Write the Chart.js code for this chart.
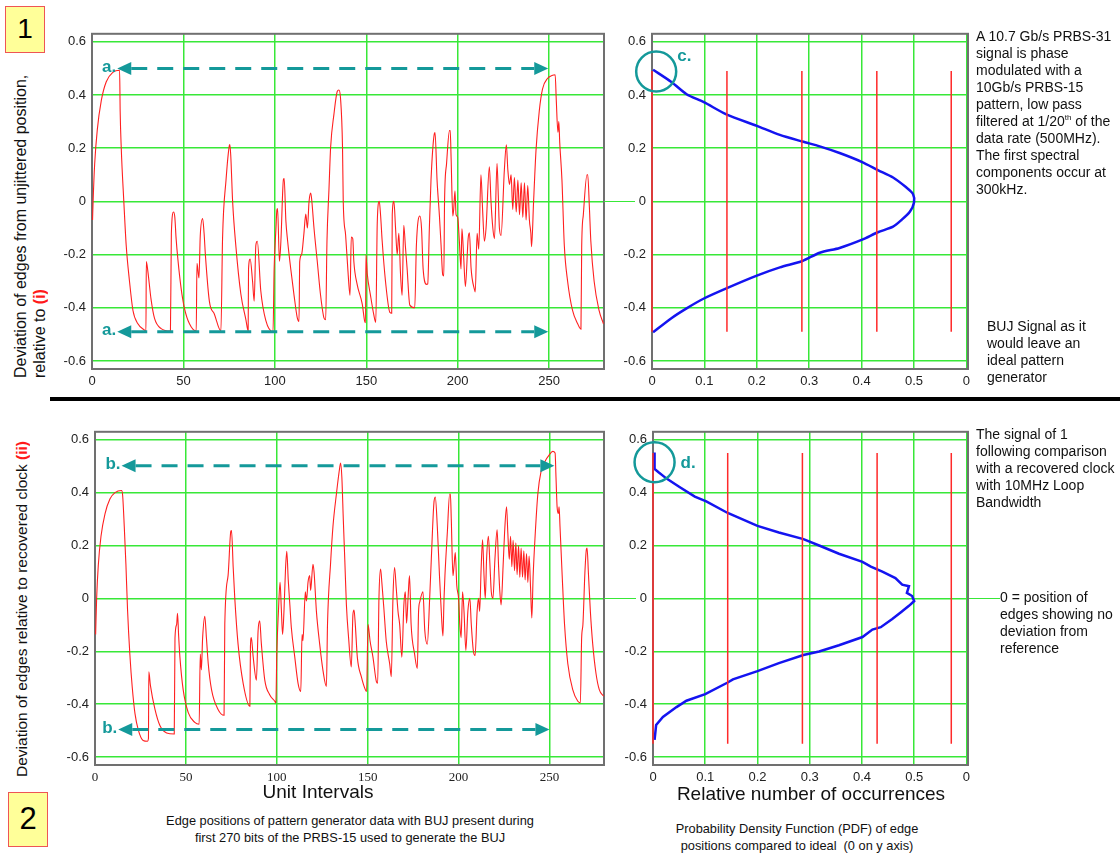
<!DOCTYPE html>
<html lang="en">
<head>
<meta charset="UTF-8">
<title>BUJ edge deviation and PDF</title>
<script src="https://cdn.jsdelivr.net/npm/chart.js"></script>
<style>
  body { margin: 0; background: #fff; font-family: 'Liberation Sans', Arial, sans-serif; color: #111; }
  #page { position: relative; width: 1120px; height: 855px; overflow: hidden; }
  canvas, .txt, .tag, .vt { position: absolute; }
  .txt { white-space: nowrap; font-size: 14px; line-height: 17px; }
  .tag { background: #ffff99; border: 1.5px solid #ee5555; box-sizing: border-box; text-align: center; color: #000; }
  .vt { writing-mode: vertical-rl; transform: rotate(180deg); white-space: nowrap; line-height: 19px; }
  .red { color: #ff1a1a; font-weight: bold; }
  .center { text-align: center; }
  .rule { position: absolute; left: 50px; top: 397px; width: 1070px; height: 4px; background: #000; }
</style>
</head>
<body>
<div id="page">
  <div class="tag" style="left:5px; top:6px; width:40px; height:47px; font-size:28px; line-height:44px;">1</div>
  <div class="tag" style="left:8px; top:792px; width:40px; height:55px; font-size:31px; line-height:52px;">2</div>

  <div class="vt" style="left:11px; top:40px; height:338px; font-size:16px;">Deviation of edges from unjittered position,<br>relative to <span class="red">(i)</span></div>
  <div class="vt" style="left:12px; top:430px; height:347px; font-size:15.5px;">Deviation of edges relative to recovered clock <span class="red">(ii)</span></div>

  <canvas id="timeTop" width="570" height="372" style="left:40px; top:20px;"></canvas>
  <canvas id="pdfTop" width="400" height="372" style="left:604px; top:20px;"></canvas>
  <div class="rule"></div>
  <canvas id="timeBot" width="570" height="370" style="left:40px; top:418px;"></canvas>
  <canvas id="pdfBot" width="400" height="370" style="left:604px; top:418px;"></canvas>

  <div class="txt" style="left:976px; top:28px;">A 10.7 Gb/s PRBS-31<br>signal is phase<br>modulated with a<br>10Gb/s PRBS-15<br>pattern, low pass<br>filtered at 1/20<sup style="font-size:8px; line-height:0;">th</sup> of the<br>data rate (500MHz).<br>The first spectral<br>components occur at<br>300kHz.</div>
  <div class="txt" style="left:987px; top:318px;">BUJ Signal as it<br>would leave an<br>ideal pattern<br>generator</div>
  <div class="txt" style="left:976px; top:426px;">The signal of 1<br>following comparison<br>with a recovered clock<br>with 10MHz Loop<br>Bandwidth</div>
  <div class="txt" style="left:1000px; top:589px;">0 = position of<br>edges showing no<br>deviation from<br>reference</div>

  <div class="txt center" style="left:168px; top:781px; width:300px; font-size:19px; line-height:22px;">Unit Intervals</div>
  <div class="txt center" style="left:661px; top:783px; width:300px; font-size:19px; line-height:22px;">Relative number of occurrences</div>
  <div class="txt center" style="left:100px; top:812px; width:500px; font-size:12.8px; line-height:17px;">Edge positions of pattern generator data with BUJ present during<br>first 270 bits of the PRBS-15 used to generate the BUJ</div>
  <div class="txt center" style="left:597px; top:820px; width:400px; font-size:12.8px; line-height:17px;">Probability Density Function (PDF) of edge<br>positions compared to ideal&nbsp; (0 on y axis)</div>
</div>

<script>
// axis ticks
const devTicks = [-0.6, -0.4, -0.2, 0, 0.2, 0.4, 0.6];
const uiTicks = [0, 50, 100, 150, 200, 250];
const occTicks = [0, 0.1, 0.2, 0.3, 0.4, 0.5, 0.6];
const occTickLabels = ['0', '0.1', '0.2', '0.3', '0.4', '0.5', '0'];

// (i) edge deviation as it leaves the pattern generator
const topUI = [0.3, 0.6, 1.45, 2.9, 5.1, 7.8, 11.4, 15.1, 15.4, 16.0, 17.4, 18.7, 20.5, 22.4, 25.1, 28.7, 29.5, 29.7, 30.5, 32.3,
  34.2, 37.8, 42.9, 43.4, 44.6, 45.3, 46.0, 47.0, 48.7, 50.5, 53.3, 57.0, 57.4, 58.5, 59.2, 60.5, 61.3, 62.0, 64.2, 66.9,
  70.5, 71.4, 73.3, 75.1, 75.4, 75.9, 76.9, 78.7, 81.4, 84.2, 85.4, 85.6, 86.5, 87.8, 88.7, 89.6, 90.4, 92.3, 95.0, 99.0,
  99.6, 100.6, 101.1, 101.5, 102.5, 103.3, 104.7, 105.1, 106.0, 107.0, 108.7, 110.5, 112.3, 113.2, 113.6, 114.6, 115.9, 116.9, 117.8, 118.7,
  119.6, 120.1, 121.4, 123.2, 125.0, 126.9, 127.8, 128.5, 129.6, 130.5, 132.3, 134.1, 135.0, 135.9, 137.0, 137.4, 138.7, 139.9, 141.1, 141.8,
  142.6, 143.2, 145.0, 147.8, 149.1, 149.6, 149.8, 150.5, 152.3, 154.1, 155.2, 156.0, 157.1, 157.8, 158.7, 160.5, 162.9, 163.9, 164.2, 165.1,
  166.0, 166.9, 167.8, 168.7, 169.6, 170.5, 171.4, 172.3, 173.8, 176.5, 177.4, 179.3, 180.2, 181.1, 183.0, 183.6, 184.5, 185.4, 187.2, 187.6,
  188.7, 190.0, 190.9, 191.8, 192.4, 192.8, 193.9, 195.5, 195.9, 196.4, 197.3, 197.8, 198.5, 199.1, 200.0, 200.9, 201.8, 202.3, 203.2, 204.2,
  205.7, 206.4, 207.3, 209.1, 209.6, 210.6, 211.5, 212.7, 213.6, 214.6, 215.5, 217.3, 218.2, 219.2, 220.1, 221.5, 222.2, 222.8, 223.7, 225.5,
  226.6, 227.4, 228.3, 229.2, 230.1, 231.0, 232.0, 232.9, 233.8, 234.7, 235.6, 236.5, 237.4, 238.3, 239.2, 240.0, 240.4, 241.5, 242.8, 244.6,
  246.4, 249.2, 251.5, 253.3, 253.9, 254.8, 255.3, 255.8, 257.0, 258.3, 260.1, 262.8, 265.6, 267.4, 267.8, 268.7, 270.7, 271.1, 272.0, 272.8,
  274.6, 277.3, 279.7];
const topDev = [-0.07, 0.0, 0.14, 0.27, 0.38, 0.45, 0.485, 0.493, 0.34, 0.2, 0.0, -0.165, -0.3, -0.41, -0.46, -0.484, -0.488, -0.226, -0.26, -0.368,
  -0.44, -0.478, -0.487, -0.12, -0.04, -0.06, -0.14, -0.22, -0.325, -0.4, -0.46, -0.487, -0.233, -0.288, -0.13, -0.064, -0.12, -0.2, -0.376, -0.423,
  -0.487, -0.138, 0.081, 0.21, 0.214, 0.17, 0.0, -0.17, -0.348, -0.446, -0.487, -0.254, -0.217, -0.3, -0.375, -0.165, -0.15, -0.336, -0.446, -0.49,
  -0.254, -0.103, -0.033, -0.027, -0.225, -0.15, 0.083, 0.086, -0.07, -0.15, -0.254, -0.353, -0.439, -0.451, -0.226, -0.2, -0.12, -0.048, -0.1, 0.0,
  0.031, 0.01, -0.1, -0.226, -0.353, -0.439, -0.445, -0.15, 0.047, 0.204, 0.327, 0.413, 0.419, 0.389, 0.204, 0.0, -0.127, -0.254, -0.353, -0.134,
  -0.14, -0.226, -0.312, -0.386, -0.45, -0.456, -0.2, -0.27, -0.353, -0.426, -0.455, -0.08, 0.0, -0.05, -0.15, -0.3, -0.417, -0.42, -0.05, 0.0,
  -0.1, -0.2, -0.12, -0.27, -0.353, -0.09, -0.17, -0.25, -0.39, -0.4, -0.165, -0.055, -0.1, -0.255, -0.312, -0.31, -0.1, 0.081, 0.254, 0.259,
  0.08, -0.055, -0.166, -0.276, -0.28, 0.0, 0.142, 0.266, 0.266, 0.16, -0.055, -0.03, 0.04, -0.05, -0.06, -0.15, -0.254, -0.103, -0.2, -0.32,
  -0.14, -0.118, -0.25, -0.33, -0.34, -0.12, -0.18, 0.1, -0.03, -0.15, -0.1, 0.13, 0.0, -0.1, -0.14, 0.142, 0.02, -0.1, -0.128, 0.117,
  0.213, 0.12, 0.064, 0.1, -0.03, 0.09, -0.04, 0.08, -0.05, 0.07, -0.06, 0.07, -0.07, 0.06, -0.07, -0.12, -0.17, 0.0, 0.19, 0.34,
  0.423, 0.463, 0.473, 0.476, 0.381, 0.26, 0.3, 0.22, 0.081, -0.166, -0.3, -0.41, -0.46, -0.48, -0.17, -0.05, 0.1, 0.1, -0.02, -0.15,
  -0.3, -0.41, -0.46];

// (ii) edge deviation against the recovered clock
const botUI = [0.35, 0.9, 1.8, 3.3, 5.5, 8.2, 11.0, 14.6, 15.2, 16.1, 17.0, 17.9, 19.2, 20.5, 22.0, 23.8, 26.5, 28.9, 29.4, 29.6,
  30.5, 33.0, 35.7, 39.4, 43.6, 44.0, 44.9, 45.4, 46.0, 46.7, 48.5, 51.3, 54.9, 57.3, 57.9, 58.5, 59.2, 60.4, 61.3, 62.3,
  64.1, 67.7, 71.0, 71.4, 73.2, 74.7, 75.1, 76.0, 76.9, 78.7, 81.5, 85.2, 85.5, 86.0, 87.0, 88.8, 89.7, 90.6, 91.5, 93.4,
  96.1, 98.9, 99.5, 100.0, 100.9, 101.8, 102.5, 103.2, 104.0, 104.8, 105.5, 106.3, 107.2, 108.0, 109.9, 111.7, 113.2, 113.9, 114.4, 115.7,
  116.3, 117.2, 118.1, 118.6, 119.9, 120.5, 121.8, 123.6, 125.4, 127.3, 127.9, 129.6, 130.9, 132.8, 134.6, 135.1, 135.8, 136.6, 137.4, 138.3,
  139.5, 141.0, 141.9, 142.5, 143.2, 144.3, 146.5, 148.7, 149.4, 150.2, 151.3, 152.9, 154.8, 155.5, 156.2, 157.1, 157.8, 158.9, 160.2, 162.1,
  163.0, 163.9, 164.8, 165.7, 166.7, 167.6, 168.8, 169.9, 170.7, 171.4, 172.2, 173.0, 173.9, 175.8, 177.3, 178.0, 178.7, 180.4, 181.4, 182.8,
  184.1, 185.0, 186.4, 187.2, 188.3, 189.5, 190.4, 191.4, 192.0, 192.5, 193.8, 195.1, 195.5, 196.0, 196.9, 197.5, 198.2, 199.0, 200.0, 200.7,
  201.4, 202.2, 203.0, 204.0, 205.1, 206.2, 207.0, 208.1, 209.1, 210.2, 211.0, 211.6, 212.4, 213.2, 214.0, 214.7, 215.4, 216.4, 217.2, 218.0,
  218.9, 220.0, 221.2, 222.0, 222.7, 223.4, 224.5, 225.3, 226.4, 227.1, 227.9, 228.6, 229.3, 230.0, 230.8, 231.5, 232.2, 233.0, 233.7, 234.4,
  235.2, 235.9, 236.6, 237.4, 238.1, 238.8, 239.6, 240.3, 241.0, 242.1, 243.6, 245.4, 247.6, 249.9, 251.8, 253.1, 253.6, 254.2, 254.9, 255.3,
  255.8, 257.0, 258.3, 260.1, 262.8, 265.6, 267.0, 267.7, 268.4, 269.5, 270.3, 270.7, 271.4, 272.5, 273.8, 275.6, 277.4, 279.8];
const botDev = [-0.136, 0.0, 0.124, 0.235, 0.32, 0.376, 0.4, 0.408, 0.39, 0.272, 0.13, -0.043, -0.214, -0.337, -0.436, -0.497, -0.537, -0.54, -0.53, -0.278,
  -0.33, -0.42, -0.481, -0.509, -0.513, -0.15, -0.099, -0.056, -0.14, -0.221, -0.345, -0.432, -0.469, -0.476, -0.21, -0.27, -0.15, -0.068, -0.15, -0.247,
  -0.345, -0.42, -0.442, -0.099, 0.086, 0.253, 0.257, 0.12, 0.0, -0.173, -0.321, -0.408, -0.185, -0.148, -0.22, -0.309, -0.124, -0.085, -0.17, -0.309,
  -0.364, -0.389, -0.395, -0.21, -0.05, 0.061, -0.04, -0.136, -0.04, 0.111, 0.178, 0.07, -0.025, -0.11, -0.222, -0.321, -0.352, -0.136, -0.16, 0.025,
  -0.01, 0.062, 0.086, 0.03, 0.129, 0.1, -0.049, -0.173, -0.272, -0.333, -0.099, 0.134, 0.272, 0.395, 0.494, 0.512, 0.457, 0.297, 0.148, -0.025,
  -0.149, -0.259, -0.06, -0.044, -0.1, -0.222, -0.296, -0.345, -0.352, -0.099, -0.16, -0.222, -0.315, -0.321, 0.0, 0.111, 0.06, -0.037, -0.161, -0.247,
  -0.296, 0.0, 0.117, 0.04, -0.05, -0.099, -0.222, -0.025, 0.025, -0.094, 0.0, 0.086, -0.099, -0.21, -0.265, -0.049, -0.012, 0.025, -0.12, -0.173,
  0.0, 0.148, 0.358, 0.383, 0.272, 0.086, -0.037, -0.142, 0.0, 0.086, 0.247, 0.395, 0.395, 0.297, 0.086, 0.123, 0.173, 0.05, 0.0, -0.099,
  -0.149, 0.025, -0.05, -0.197, -0.05, 0.0, -0.099, -0.197, -0.216, -0.049, 0.0, -0.049, 0.111, 0.222, 0.086, 0.0, 0.148, 0.235, 0.136, 0.025,
  0.0, 0.148, 0.259, 0.123, 0.025, -0.025, 0.123, 0.247, 0.346, 0.247, 0.148, 0.235, 0.12, 0.22, 0.105, 0.21, 0.09, 0.2, 0.08, 0.19,
  0.08, 0.18, 0.07, 0.17, 0.06, 0.16, 0.04, -0.074, 0.08, 0.235, 0.395, 0.481, 0.519, 0.543, 0.556, 0.55, 0.457, 0.346, 0.321, 0.346,
  0.272, 0.086, -0.099, -0.247, -0.345, -0.389, -0.395, -0.15, -0.099, 0.099, 0.185, 0.19, 0.099, -0.049, -0.173, -0.284, -0.345, -0.37];

// PDF of edge positions: relative occurrences vs deviation
const pdfTopOcc = [0.002, 0.037, 0.066, 0.099, 0.143, 0.2, 0.244, 0.287, 0.32, 0.358, 0.401, 0.431, 0.46, 0.485, 0.498, 0.5,
  0.492, 0.476, 0.46, 0.431, 0.401, 0.358, 0.32, 0.287, 0.244, 0.2, 0.143, 0.099, 0.066, 0.037, 0.002];
const pdfTopDev = [0.495, 0.449, 0.403, 0.373, 0.326, 0.284, 0.25, 0.225, 0.207, 0.182, 0.148, 0.118, 0.09, 0.053, 0.028, -0.004,
  -0.039, -0.07, -0.095, -0.116, -0.144, -0.175, -0.193, -0.224, -0.248, -0.279, -0.326, -0.365, -0.402, -0.439, -0.492];
const pdfBotOcc = [0.003, 0.003, 0.01, 0.026, 0.05, 0.08, 0.102, 0.143, 0.2, 0.241, 0.288, 0.318, 0.356, 0.401, 0.417, 0.439,
  0.464, 0.477, 0.49, 0.486, 0.496, 0.5, 0.49, 0.474, 0.458, 0.436, 0.42, 0.401, 0.356, 0.318, 0.288, 0.241,
  0.2, 0.153, 0.143, 0.1, 0.064, 0.045, 0.019, 0.006, 0.003];
const pdfBotDev = [0.552, 0.49, 0.478, 0.453, 0.422, 0.385, 0.367, 0.323, 0.274, 0.249, 0.224, 0.2, 0.169, 0.138, 0.12, 0.101,
  0.077, 0.052, 0.046, 0.021, 0.009, -0.01, -0.028, -0.053, -0.078, -0.109, -0.118, -0.146, -0.177, -0.201, -0.214, -0.245,
  -0.275, -0.306, -0.318, -0.362, -0.387, -0.411, -0.448, -0.479, -0.535];

// ideal pattern generator: discrete occurrence levels and their deviation extent
const idealOcc = [0, 0.143, 0.286, 0.429, 0.571];
const idealSpanTop = 0.49;
const idealSpanBot = 0.55;

// bracket arrows: [from UI, to UI, deviation]
const arrowsTop = [[13.8, 249.5, 0.5], [13.8, 249.5, -0.49]];
const arrowsBot = [[14.6, 252.7, 0.502], [12.8, 250.0, -0.496]];
// circled start of each PDF: [occurrence, deviation]
const circleTop = [0.008, 0.488];
const circleBot = [0.003, 0.515];

const GRID = '#38e838';
const TEAL = '#14999a';
Chart.defaults.font.family = "'Liberation Sans', Arial, sans-serif";

// plot frame plus the zero line carried out past the axis
const framePlugin = {
  id: 'frame',
  beforeDatasetsDraw(chart, args, opts) {
    const { ctx, chartArea: a } = chart;
    ctx.save();
    if (opts.zeroLeft || opts.zeroRight) {
      const y = Math.round(chart.scales.y.getPixelForValue(0)) + 0.5;
      ctx.strokeStyle = GRID;
      ctx.lineWidth = 1;
      ctx.beginPath();
      if (opts.zeroLeft) { ctx.moveTo(0, y); ctx.lineTo(a.left - opts.zeroLeft, y); }
      if (opts.zeroRight) { ctx.moveTo(a.right, y); ctx.lineTo(a.right + opts.zeroRight, y); }
      ctx.stroke();
    }
    ctx.strokeStyle = '#707070';
    ctx.lineWidth = 2;
    ctx.strokeRect(a.left, a.top, a.right - a.left, a.bottom - a.top);
    ctx.restore();
  }
};

// teal callouts: dashed double arrows and the circled PDF tail
const notesPlugin = {
  id: 'notes',
  afterDatasetsDraw(chart, args, opts) {
    const { ctx } = chart;
    const sx = chart.scales.x, sy = chart.scales.y;
    ctx.save();
    ctx.strokeStyle = TEAL;
    ctx.fillStyle = TEAL;
    ctx.font = "bold 17px 'Liberation Sans', Arial, sans-serif";
    ctx.textBaseline = 'middle';
    (opts.arrows || []).forEach(([u1, u2, v]) => {
      const x1 = sx.getPixelForValue(u1), x2 = sx.getPixelForValue(u2), y = sy.getPixelForValue(v);
      const head = 14, half = 6.5;
      ctx.lineWidth = 3;
      ctx.setLineDash([16, 10]);
      ctx.beginPath();
      ctx.moveTo(x1 + head, y);
      ctx.lineTo(x2 - head, y);
      ctx.stroke();
      ctx.setLineDash([]);
      ctx.beginPath();
      ctx.moveTo(x1, y); ctx.lineTo(x1 + head, y - half); ctx.lineTo(x1 + head, y + half);
      ctx.closePath(); ctx.fill();
      ctx.beginPath();
      ctx.moveTo(x2, y); ctx.lineTo(x2 - head, y - half); ctx.lineTo(x2 - head, y + half);
      ctx.closePath(); ctx.fill();
      ctx.textAlign = 'right';
      ctx.fillText(opts.label, x1 - 1, y - 1);
    });
    if (opts.circle) {
      const cx = sx.getPixelForValue(opts.circle[0]), cy = sy.getPixelForValue(opts.circle[1]);
      ctx.lineWidth = 2.5;
      ctx.beginPath();
      ctx.arc(cx, cy, 20, 0, Math.PI * 2);
      ctx.stroke();
      ctx.textAlign = 'left';
      ctx.fillText(opts.label, cx + opts.labelDx, cy + opts.labelDy);
    }
    ctx.restore();
  }
};

const fixedTicks = list => axis => { axis.ticks = list.map(value => ({ value })); };
const devLabel = v => String(+v.toFixed(1));

function devAxis(width) {
  return {
    min: -0.63, max: 0.63,
    afterBuildTicks: fixedTicks(devTicks),
    afterFit: axis => { axis.width = width; },
    grid: { color: GRID, lineWidth: 1.5, drawTicks: false },
    border: { display: false },
    ticks: { padding: 6, color: '#222', font: { size: 13 }, callback: devLabel }
  };
}

function timeChart(id, xs, ys, cfg) {
  return new Chart(document.getElementById(id), {
    type: 'scatter',
    data: {
      datasets: [{
        data: xs.map((x, i) => ({ x, y: ys[i] })),
        showLine: true, borderColor: '#ff2020', borderWidth: 1.1, pointRadius: 0,
        cubicInterpolationMode: 'monotone'
      }]
    },
    options: {
      responsive: false, animation: false, devicePixelRatio: 1,
      layout: { padding: { top: cfg.padTop, right: 6, left: 0, bottom: 0 } },
      plugins: {
        legend: { display: false }, tooltip: { enabled: false },
        frame: {},
        notes: { arrows: cfg.arrows, label: cfg.label }
      },
      scales: {
        x: {
          type: 'linear', min: 0, max: 280,
          afterBuildTicks: fixedTicks(uiTicks),
          afterFit: axis => { axis.height = 23; },
          grid: { color: GRID, lineWidth: 1.5, drawTicks: false },
          border: { display: false },
          ticks: { padding: 5, color: '#222', font: cfg.xFont, autoSkip: false, maxRotation: 0, callback: v => String(v) }
        },
        y: devAxis(cfg.yWidth)
      }
    },
    plugins: [framePlugin, notesPlugin]
  });
}

function pdfChart(id, occ, dev, span, cfg) {
  const ideal = idealOcc.flatMap(x => [{ x, y: -span }, { x, y: span }, { x, y: null }]);
  return new Chart(document.getElementById(id), {
    type: 'scatter',
    data: {
      datasets: [
        { data: ideal, showLine: true, spanGaps: false, borderColor: '#ff2a2a', borderWidth: 1.5, pointRadius: 0, clip: false },
        { data: occ.map((x, i) => ({ x, y: dev[i] })), showLine: true, borderColor: '#1414f0', borderWidth: 2.5, pointRadius: 0, clip: false, tension: cfg.tension }
      ]
    },
    options: {
      responsive: false, animation: false, devicePixelRatio: 1,
      layout: { padding: { top: cfg.padTop, right: 36, left: 0, bottom: 0 } },
      plugins: {
        legend: { display: false }, tooltip: { enabled: false },
        frame: { zeroLeft: 17, zeroRight: cfg.zeroRight },
        notes: { circle: cfg.circle, label: cfg.label, labelDx: cfg.labelDx, labelDy: cfg.labelDy }
      },
      scales: {
        x: {
          type: 'linear', min: 0, max: 0.603,
          afterBuildTicks: fixedTicks(occTicks),
          afterFit: axis => { axis.height = 23; },
          grid: { color: GRID, lineWidth: 1.5, drawTicks: false },
          border: { display: false },
          ticks: { padding: 5, color: '#222', font: { size: 13 }, autoSkip: false, maxRotation: 0, callback: (v, i) => occTickLabels[i] }
        },
        y: devAxis(cfg.yWidth)
      }
    },
    plugins: [framePlugin, notesPlugin]
  });
}

timeChart('timeTop', topUI, topDev, { padTop: 8, yWidth: 52, arrows: arrowsTop, label: 'a.', xFont: { size: 13 } });
timeChart('timeBot', botUI, botDev, { padTop: 9, yWidth: 55, arrows: arrowsBot, label: 'b.', xFont: { size: 13, family: "'Liberation Serif', 'Times New Roman', serif" } });
pdfChart('pdfTop', pdfTopOcc, pdfTopDev, idealSpanTop, { padTop: 10, yWidth: 48, zeroRight: 0, circle: circleTop, label: 'c.', labelDx: 21, labelDy: -15, tension: 0.25 });
pdfChart('pdfBot', pdfBotOcc, pdfBotDev, idealSpanBot, { padTop: 9, yWidth: 49, zeroRight: 32, circle: circleBot, label: 'd.', labelDx: 26, labelDy: 1, tension: 0 });
</script>
</body>
</html>
